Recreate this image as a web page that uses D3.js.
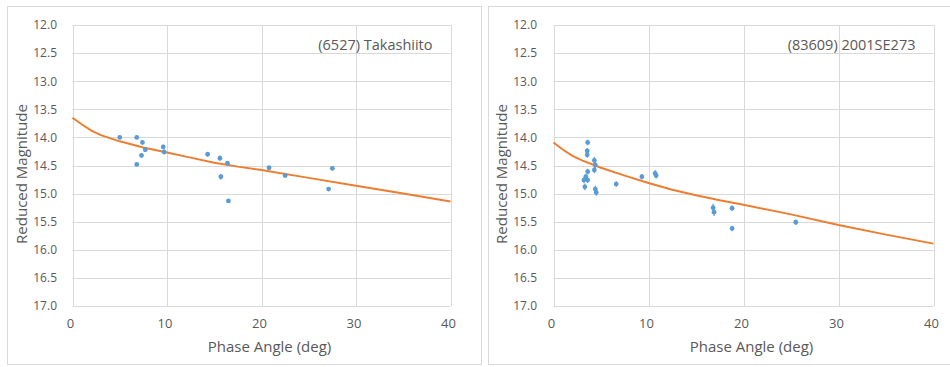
<!DOCTYPE html>
<html>
<head>
<meta charset="utf-8">
<script src="https://cdn.jsdelivr.net/npm/d3@7"></script>
<style>
  html, body { margin: 0; padding: 0; background: #fff; }
  svg { display: block; }
  text { font-family: "Open Sans", "Liberation Sans", sans-serif; fill: #595959; }
</style>
</head>
<body>
<svg id="chart" width="950" height="367"></svg>
<script>
// ---------- DATA ----------
const xTicks = [0, 10, 20, 30, 40];
const yTicks = [12.0, 12.5, 13.0, 13.5, 14.0, 14.5, 15.0, 15.5, 16.0, 16.5, 17.0];
const xTitle = "Phase Angle (deg)";
const yTitle = "Reduced Magnitude";

// Panel 1: (6527) Takashiito
const label1 = "(6527) Takashiito";
const phase1 = [5.0, 6.8, 7.4, 7.7, 7.3, 6.8, 9.6, 9.7, 14.3, 15.6, 15.7, 16.4, 16.5, 20.8, 22.5, 27.5, 27.1];
const mag1   = [14.00, 14.00, 14.09, 14.22, 14.32, 14.48, 14.17, 14.26, 14.30, 14.37, 14.70, 14.46, 15.13, 14.54, 14.68, 14.55, 14.92];
const err1   = [0.03, 0.03, 0.04, 0.04, 0.04, 0.03, 0.04, 0.04, 0.04, 0.05, 0.05, 0.03, 0.03, 0.03, 0.03, 0.04, 0.03];
const curvePhase1 = [0, 1, 2, 3, 5, 7.5, 10, 12.5, 15, 17.5, 20, 25, 30, 35, 40];
const curveMag1   = [13.65, 13.77, 13.88, 13.96, 14.07, 14.18, 14.27, 14.36, 14.45, 14.52, 14.58, 14.72, 14.86, 15.00, 15.14];

// Panel 2: (83609) 2001SE273
const label2 = "(83609) 2001SE273";
const phase2 = [3.6, 3.55, 3.55, 4.3, 4.4, 4.3, 3.6, 3.4, 3.2, 3.6, 3.3, 4.4, 4.5, 6.6, 9.3, 10.7, 10.8, 16.8, 16.9, 18.8, 18.8, 25.5];
const mag2   = [14.09, 14.24, 14.31, 14.41, 14.49, 14.58, 14.61, 14.70, 14.76, 14.76, 14.88, 14.92, 14.98, 14.83, 14.70, 14.64, 14.68, 15.25, 15.33, 15.26, 15.62, 15.51];
const err2   = [0.05, 0.05, 0.05, 0.06, 0.06, 0.06, 0.05, 0.05, 0.05, 0.05, 0.06, 0.06, 0.06, 0.05, 0.05, 0.06, 0.05, 0.07, 0.07, 0.05, 0.05, 0.05];
const curvePhase2 = [0, 1, 2, 3, 5, 7.5, 10, 12.5, 15, 17.5, 20, 25, 30, 35, 40];
const curveMag2   = [14.09, 14.22, 14.33, 14.41, 14.54, 14.68, 14.81, 14.93, 15.03, 15.12, 15.20, 15.37, 15.56, 15.73, 15.89];

// ---------- LAYOUT ----------
const panels = [
  { frame: [7, 6, 474, 358], plot: [72.5, 25, 450.5, 306], label: label1,
    phase: phase1, mag: mag1, err: err1, cPhase: curvePhase1, cMag: curveMag1, yLabelX: 57, yTitleX: 22, xTitleDx: 8 },
  { frame: [488, 6, 470, 358], plot: [553.5, 25, 933.5, 306], label: label2,
    phase: phase2, mag: mag2, err: err2, cPhase: curvePhase2, cMag: curveMag2, yLabelX: 537, yTitleX: 502, xTitleDx: 8 }
];

const svg = d3.select("#chart");
const grid = "#d9d9d9";
const blue = "#5b9bd5";
const orange = "#ed7d31";

panels.forEach(p => {
  const g = svg.append("g");
  g.append("rect")
    .attr("x", p.frame[0] + 0.5).attr("y", p.frame[1] + 0.5)
    .attr("width", p.frame[2]).attr("height", p.frame[3])
    .attr("fill", "#fff").attr("stroke", grid).attr("stroke-width", 1);

  const [x0, y0, x1, y1] = p.plot;
  const x = d3.scaleLinear().domain([0, 40]).range([x0, x1]);
  const y = d3.scaleLinear().domain([12, 17]).range([y0, y1]);

  // gridlines
  g.append("g").selectAll("line.h").data(yTicks).join("line")
    .attr("x1", x0).attr("x2", x1)
    .attr("y1", d => Math.round(y(d)) + 0.5).attr("y2", d => Math.round(y(d)) + 0.5)
    .attr("stroke", grid).attr("stroke-width", 1);
  g.append("g").selectAll("line.v").data(xTicks).join("line")
    .attr("y1", y0).attr("y2", y1)
    .attr("x1", d => Math.round(x(d)) + 0.5).attr("x2", d => Math.round(x(d)) + 0.5)
    .attr("stroke", grid).attr("stroke-width", 1);

  // y tick labels via axis
  const yAxis = d3.axisLeft(y).tickValues(yTicks).tickFormat(d3.format(".1f")).tickSize(0).tickPadding(0);
  const ya = g.append("g").attr("transform", `translate(${p.yLabelX},0)`).call(yAxis);
  ya.select(".domain").remove();
  ya.selectAll("text").attr("font-size", "12px").style("fill", "#595959")
    .style("font-family", "'Open Sans', sans-serif");

  const xAxis = d3.axisBottom(x).tickValues(xTicks).tickFormat(d3.format("d")).tickSize(0).tickPadding(0);
  const xa = g.append("g").attr("transform", `translate(-2.5,${y1 + 13})`).call(xAxis);
  xa.select(".domain").remove();
  xa.selectAll("text").attr("font-size", "13px").style("fill", "#595959")
    .style("font-family", "'Open Sans', sans-serif");

  // axis titles
  g.append("text").attr("x", (x0 + x1) / 2 + p.xTitleDx).attr("y", 352)
    .attr("text-anchor", "middle").attr("font-size", "15px").text(xTitle);
  g.append("text").attr("transform", `translate(${p.yTitleX + 5},174) rotate(-90)`)
    .attr("text-anchor", "middle").attr("font-size", "15px").text(yTitle);

  // annotation
  g.append("text").attr("x", x1 - 18).attr("y", 50)
    .attr("text-anchor", "end").attr("font-size", "14.5px").text(p.label);

  // curve
  const line = d3.line().x(d => x(d[0])).y(d => y(d[1]));
  g.append("path").datum(p.cPhase.map((v, i) => [v, p.cMag[i]]))
    .attr("d", line).attr("fill", "none").attr("stroke", orange).attr("stroke-width", 2);

  // points with error bars
  const pts = p.phase.map((v, i) => ({ ph: v, m: p.mag[i], e: p.err[i] }));
  g.append("g").selectAll("line").data(pts).join("line")
    .attr("x1", d => x(d.ph)).attr("x2", d => x(d.ph))
    .attr("y1", d => y(d.m - d.e)).attr("y2", d => y(d.m + d.e))
    .attr("stroke", blue).attr("stroke-width", 1.2);
  g.append("g").selectAll("circle").data(pts).join("circle")
    .attr("cx", d => x(d.ph)).attr("cy", d => y(d.m)).attr("r", 2.4)
    .attr("fill", blue);
});
</script>
</body>
</html>
